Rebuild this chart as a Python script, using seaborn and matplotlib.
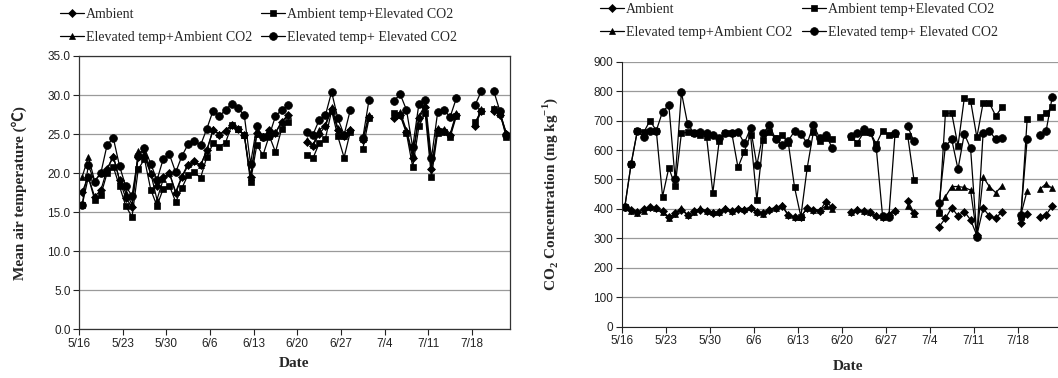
import numpy as np
import pandas as pd
import seaborn as sns
import matplotlib.pyplot as plt
import matplotlib.dates as mdates
from matplotlib.ticker import FuncFormatter, MultipleLocator

# measurement days counted from 5/16 (gaps = missing days)
days = (list(range(0, 34)) + list(range(36, 44)) + [45, 46]
        + list(range(50, 61)) + [63, 64] + [66, 67, 68])

names = ['Ambient', 'Elevated temp+Ambient CO2',
         'Ambient temp+Elevated CO2', 'Elevated temp+ Elevated CO2']
markers = {names[0]: 'D', names[1]: '^', names[2]: 's', names[3]: 'o'}

# mean air temperature (deg C)
temp_ambient = [17.6, 19.5, 17.0, 17.8, 20.5, 22.1, 19.1, 16.8, 15.7, 22.1,
                22.1, 19.9, 18.3, 19.5, 20.0, 17.4, 19.5, 21.0, 21.5, 21.0,
                23.0, 25.5, 24.9, 25.4, 26.2, 25.6, 24.9, 19.5, 25.1, 24.6,
                25.5, 25.1, 26.6, 27.4,
                24.0, 23.5, 25.0, 26.0, 28.2, 25.5, 24.7, 25.5,
                24.2, 27.2,
                27.0, 27.5, 25.3, 22.0, 27.0, 28.5, 20.5, 25.5, 25.4, 24.9, 27.5,
                26.0, 28.0,
                28.0, 27.5, 25.0]
temp_eta = [19.5, 22.1, 19.0, 20.0, 20.5, 22.2, 19.1, 17.5, 16.0, 22.8,
            22.6, 20.0, 16.6, 19.2, 20.0, 17.6, 19.6, 21.2, 21.5, 21.0,
            22.9, 25.6, 25.0, 25.5, 26.2, 25.6, 24.9, 19.5, 25.0, 24.6,
            25.5, 25.2, 26.6, 27.4,
            24.3, 23.6, 25.5, 26.2, 28.5, 25.8, 24.8, 25.6,
            24.4, 27.5,
            27.3, 27.8, 25.5, 22.5, 27.3, 28.7, 20.8, 25.8, 25.6, 25.0, 27.7,
            26.3, 28.2,
            28.3, 27.6, 25.2]
temp_aec = [15.9, 19.5, 16.6, 17.2, 20.0, 20.8, 18.3, 15.8, 14.4, 20.5,
            21.8, 17.9, 15.8, 18.0, 18.4, 16.3, 18.1, 19.8, 20.1, 19.4,
            22.1, 23.8, 23.4, 23.9, 26.2, 25.6, 24.9, 18.9, 23.6, 22.3,
            24.8, 22.7, 25.7, 26.5,
            22.3, 21.9, 23.8, 24.4, 28.0, 24.7, 22.0, 25.3,
            23.1, 27.0,
            27.7, 27.4, 25.1, 20.8, 26.0, 27.7, 19.5, 25.2, 25.3, 24.6, 27.3,
            26.5, 27.9,
            28.2, 27.7, 24.6]
temp_ee = [15.9, 21.0, 18.9, 20.0, 23.6, 24.5, 20.9, 18.3, 17.1, 22.2,
           23.2, 21.2, 19.1, 21.8, 22.4, 20.1, 22.2, 23.7, 24.1, 23.6,
           25.7, 28.0, 27.3, 28.1, 28.9, 28.3, 27.4, 21.2, 26.0, 24.6,
           24.8, 27.3, 28.1, 28.7,
           25.3, 24.9, 26.8, 27.4, 30.4, 27.0, 24.9, 28.1,
           24.5, 29.4,
           29.3, 30.1, 28.1, 23.3, 28.9, 29.4, 21.9, 27.8, 28.1, 27.2, 29.6,
           28.7, 30.5,
           30.5, 27.9, 24.9]

# CO2 concentration (mg/kg)
co2_ambient = [405, 395, 388, 400, 405, 402, 393, 372, 385, 398,
               378, 394, 398, 392, 386, 389, 400, 394, 400, 396,
               402, 388, 386, 398, 402, 410, 378, 372, 374, 402,
               396, 394, 425, 405,
               391, 395, 394, 390, 376, 374, 378, 394,
               428, 386,
               340, 368, 404, 376, 391, 363, 310, 402, 376, 368, 391,
               351, 382,
               374, 380, 410]
co2_eta = [405, 392, 385, 392, 408, 403, 390, 370, 382, 402,
           380, 390, 402, 394, 388, 390, 404, 392, 404, 399,
           406, 390, 384, 400, 404, 412, 380, 372, 372, 404,
           398, 396, 410, 400,
           388, 399, 392, 391, 378, 372, 382, 398,
           410, 384,
           400, 442, 476, 476, 473, 464, 310, 508, 476, 455, 478,
           380, 462,
           467, 485, 470]
co2_aec = [408, 553, 666, 660, 700, 666, 442, 540, 478, 657,
           660, 657, 650, 645, 455, 629, 659, 659, 541, 595,
           651, 430, 634, 660, 640, 650, 625, 473, 374, 538,
           662, 630, 640, 636,
           645, 625, 660, 662, 620, 666, 651, 655,
           648, 498,
           387, 725, 725, 614, 776, 768, 643, 761, 759, 716, 745,
           374, 704,
           711, 725, 747]
co2_ee = [408, 553, 666, 643, 666, 666, 730, 753, 501, 796,
          687, 659, 662, 657, 651, 640, 659, 659, 662, 623,
          674, 549, 657, 685, 636, 617, 632, 664, 655, 623,
          685, 640, 651, 606,
          646, 657, 670, 662, 606, 376, 374, 659,
          680, 629,
          419, 614, 636, 535, 655, 606, 306, 659, 665, 636, 640,
          380, 636,
          651, 663, 781]

start = pd.Timestamp('2011-05-16')
dates = start + pd.to_timedelta(days, unit='D') + pd.Timedelta(hours=12)
seg = np.cumsum(np.diff(days, prepend=days[0]) > 1)


def to_long(cols):
    frames = [pd.DataFrame({'date': dates, 'value': v, 'series': n, 'seg': seg})
              for n, v in zip(names, cols)]
    return pd.concat(frames, ignore_index=True)


temp_df = to_long([temp_ambient, temp_eta, temp_aec, temp_ee])
co2_df = to_long([co2_ambient, co2_eta, co2_aec, co2_ee])

sns.set_style('white')
plt.rcParams['font.family'] = ['Liberation Sans', 'DejaVu Sans']
plt.rcParams['mathtext.fontset'] = 'custom'
plt.rcParams['mathtext.rm'] = 'Liberation Serif'
plt.rcParams['mathtext.bf'] = 'Liberation Serif:bold'

fig = plt.figure(figsize=(10.58, 3.78), dpi=100)
W, H = 1058, 378
ax1 = fig.add_axes([79 / W, (H - 329.3) / H, 431 / W, 273.3 / H])
ax2 = fig.add_axes([621.7 / W, (H - 326.7) / H, 72 * 6.286 / W, 265 / H])

msizes = {'D': 3.6, '^': 4.6, 's': 4.4, 'o': 5.6}
serif = ['Liberation Serif', 'Noto Sans CJK SC']
ticks = pd.date_range(start, periods=10, freq='7D')
fmt = FuncFormatter(lambda v, p: f"{mdates.num2date(v).month}/{mdates.num2date(v).day}")

for ax, df, ndays in [(ax1, temp_df, 69.1), (ax2, co2_df, 72)]:
    sns.lineplot(data=df, x='date', y='value', hue='series', style='series',
                 units='seg', estimator=None, hue_order=names, style_order=names,
                 palette={n: 'black' for n in names}, markers=markers, dashes=False,
                 linewidth=0.9, markeredgecolor='black', markeredgewidth=0.5, ax=ax)
    for ln in ax.lines:
        ln.set_markersize(msizes.get(ln.get_marker(), 5))
    ax.set_xticks(mdates.date2num(ticks.to_pydatetime()))
    ax.xaxis.set_major_formatter(fmt)
    ax.set_xlim(mdates.date2num(start.to_pydatetime()),
                mdates.date2num((start + pd.Timedelta(days=ndays)).to_pydatetime()))
    ax.grid(axis='y', color='#9a9a9a', linewidth=0.9)
    ax.tick_params(axis='both', direction='out', length=4, width=0.8,
                   colors='#222222', labelsize=8.5, pad=2, bottom=True, left=True)
    left_x, top_y, colsp = (60, 8, 0.65) if ax is ax1 else (600, 3, 0.72)
    sns.move_legend(ax, 'upper left', ncol=2, frameon=False, title='',
                    bbox_transform=fig.transFigure,
                    bbox_to_anchor=(left_x / W, 1 - top_y / H),
                    borderaxespad=0, borderpad=0, handlelength=1.7, handletextpad=0.15,
                    columnspacing=colsp, labelspacing=0.69,
                    prop={'family': 'Liberation Serif', 'size': 10})
    leg = ax.get_legend()
    for h in leg.legend_handles:
        h.set_markersize(msizes.get(h.get_marker(), 5))
        h.set_markeredgecolor('black')
        h.set_linewidth(0.9)

ax1.set_ylim(0, 35)
ax1.yaxis.set_major_locator(MultipleLocator(5))
ax1.yaxis.set_major_formatter(FuncFormatter(lambda v, p: f"{v:.1f}"))
ax1.set_ylabel('Mean air temperature (℃)', family=serif, fontweight='bold',
               fontsize=11, labelpad=15)
ax1.set_xlabel('Date', family=serif, fontweight='bold', fontsize=11, labelpad=5)
for s in ax1.spines.values():
    s.set_color('#333333')
    s.set_linewidth(0.9)

ax2.set_ylim(0, 900)
ax2.yaxis.set_major_locator(MultipleLocator(100))
ax2.set_ylabel(r'CO$_\mathbf{2}$ Concentration (mg kg$^\mathbf{-1}$)', family=serif,
               fontweight='bold', fontsize=11, labelpad=24)
ax2.set_xlabel('Date', family=serif, fontweight='bold', fontsize=11, labelpad=9)
sns.despine(ax=ax2, top=True, right=True)
ax2.spines['left'].set_color('#222222')
ax2.spines['bottom'].set_color('#222222')

fig.savefig('out.png', dpi=100)
